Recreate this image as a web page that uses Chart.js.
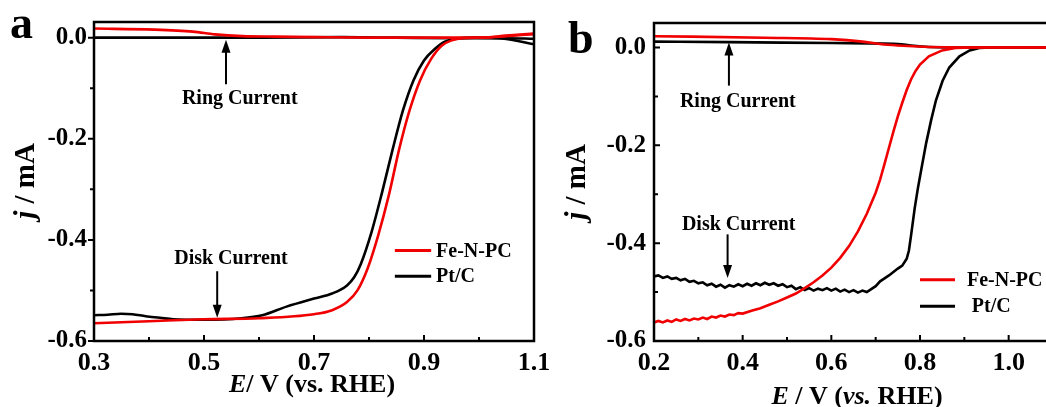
<!DOCTYPE html>
<html>
<head>
<meta charset="utf-8">
<script src="https://cdn.jsdelivr.net/npm/chart.js@4.4.0/dist/chart.umd.min.js"></script>
<style>
  html, body { margin: 0; padding: 0; background: #fff; overflow: hidden; width: 1046px; height: 407px; }
  canvas { position: absolute; top: 0; }
  #chartA { left: 0; }
  #chartB { left: 545px; }
</style>
</head>
<body>
<canvas id="chartA" width="560" height="407"></canvas>
<canvas id="chartB" width="535" height="407"></canvas>
<script>
// ---- panel a data (E in V vs RHE, j in mA) ----
const aFeDiskE = [0.30, 0.40, 0.50, 0.60, 0.70, 0.733, 0.76, 0.779, 0.798, 0.817, 0.836, 0.855, 0.874, 0.893, 0.913, 0.932, 0.951, 0.97, 1.01, 1.05, 1.10];
const aFeDiskJ = [-0.565, -0.561, -0.557, -0.555, -0.547, -0.539, -0.523, -0.500, -0.455, -0.390, -0.312, -0.220, -0.143, -0.084, -0.042, -0.016, -0.005, -0.001, 0.000, 0.003, 0.007];
const aPtDiskE = [0.30, 0.325, 0.349, 0.37, 0.394, 0.42, 0.444, 0.50, 0.568, 0.606, 0.65, 0.70, 0.733, 0.76, 0.773, 0.785, 0.805, 0.824, 0.843, 0.862, 0.881, 0.90, 0.919, 0.938, 0.963, 0.99, 1.046, 1.10];
const aPtDiskJ = [-0.549, -0.548, -0.546, -0.547, -0.551, -0.554, -0.557, -0.558, -0.555, -0.549, -0.532, -0.516, -0.506, -0.490, -0.474, -0.448, -0.383, -0.305, -0.221, -0.143, -0.084, -0.045, -0.023, -0.008, -0.001, 0.000, -0.002, -0.013];
const aFeRingE = [0.30, 0.41, 0.48, 0.52, 0.57, 0.63, 0.70, 0.80, 1.00, 1.05, 1.10];
const aFeRingJ = [0.018, 0.016, 0.012, 0.0065, 0.003, 0.002, 0.001, 0.000, 0.000, 0.004, 0.008];
const aPtRingE = [0.30, 0.60, 0.75, 0.85, 0.95, 1.05, 1.10];
const aPtRingJ = [0.000, 0.000, 0.001, 0.000, -0.001, -0.001, -0.002];
const aXTicks = [0.3, 0.5, 0.7, 0.9, 1.1];
const aXMinor = [0.4, 0.6, 0.8, 1.0];

// ---- panel b data ----
const bFeDiskE = [0.20, 0.21, 0.22, 0.23, 0.24, 0.25, 0.26, 0.27, 0.28, 0.29, 0.30, 0.31, 0.32, 0.33, 0.34, 0.35, 0.36, 0.37, 0.38, 0.39, 0.40, 0.42, 0.44, 0.46, 0.48, 0.50, 0.52, 0.54, 0.56, 0.58, 0.60, 0.62, 0.64, 0.66, 0.68, 0.70, 0.71, 0.72, 0.73, 0.74, 0.75, 0.76, 0.77, 0.78, 0.79, 0.80, 0.82, 0.85, 0.88, 0.92, 1.10];
const bFeDiskJ = [-0.562, -0.559, -0.562, -0.558, -0.561, -0.556, -0.559, -0.555, -0.558, -0.554, -0.556, -0.552, -0.555, -0.550, -0.552, -0.548, -0.550, -0.546, -0.547, -0.543, -0.544, -0.538, -0.533, -0.526, -0.519, -0.511, -0.503, -0.492, -0.480, -0.466, -0.450, -0.430, -0.406, -0.376, -0.340, -0.297, -0.270, -0.238, -0.205, -0.172, -0.141, -0.113, -0.087, -0.065, -0.048, -0.035, -0.018, -0.006, -0.001, 0.000, 0.000];
const bPtDiskE = [0.20, 0.21, 0.22, 0.23, 0.24, 0.25, 0.26, 0.27, 0.28, 0.29, 0.30, 0.31, 0.32, 0.33, 0.34, 0.35, 0.36, 0.37, 0.38, 0.39, 0.40, 0.41, 0.42, 0.43, 0.44, 0.45, 0.46, 0.47, 0.48, 0.49, 0.50, 0.51, 0.52, 0.53, 0.54, 0.55, 0.56, 0.57, 0.58, 0.59, 0.60, 0.61, 0.62, 0.63, 0.64, 0.65, 0.66, 0.67, 0.68, 0.69, 0.70, 0.71, 0.72, 0.73, 0.74, 0.75, 0.76, 0.77, 0.775, 0.78, 0.788, 0.795, 0.803, 0.814, 0.825, 0.836, 0.851, 0.866, 0.889, 0.912, 0.934, 0.96, 1.10];
const bPtDiskJ = [-0.468, -0.466, -0.471, -0.468, -0.473, -0.471, -0.476, -0.473, -0.479, -0.477, -0.482, -0.480, -0.486, -0.483, -0.489, -0.485, -0.491, -0.486, -0.489, -0.484, -0.488, -0.483, -0.487, -0.482, -0.486, -0.481, -0.485, -0.482, -0.487, -0.484, -0.490, -0.487, -0.494, -0.490, -0.496, -0.492, -0.497, -0.493, -0.496, -0.492, -0.497, -0.493, -0.499, -0.495, -0.500, -0.496, -0.501, -0.497, -0.500, -0.494, -0.488, -0.478, -0.472, -0.466, -0.459, -0.452, -0.446, -0.432, -0.415, -0.383, -0.329, -0.289, -0.249, -0.195, -0.149, -0.108, -0.068, -0.041, -0.018, -0.006, -0.001, 0.000, 0.000];
const bFeRingE = [0.20, 0.45, 0.60, 0.67, 0.71, 0.75, 0.82, 0.90, 1.10];
const bFeRingJ = [0.023, 0.020, 0.017, 0.012, 0.007, 0.004, 0.001, 0.000, 0.000];
const bPtRingE = [0.20, 0.37, 0.60, 0.75, 0.78, 0.82, 0.86, 1.10];
const bPtRingJ = [0.012, 0.011, 0.009, 0.007, 0.004, 0.001, 0.000, 0.000];
const bXTicks = [0.2, 0.4, 0.6, 0.8, 1.0];
const bXMinor = [0.3, 0.5, 0.7, 0.9];

const yTicks = [0.0, -0.2, -0.4, -0.6];
const yMinor = [-0.1, -0.3, -0.5];
const seriesNames = ['Fe-N-PC', 'Pt/C'];
const seriesColors = ['#f00000', '#000000'];

const SERIF = '"Liberation Serif", "Times New Roman", serif';

function pts(xs, ys) {
  return xs.map((x, i) => ({ x: x, y: ys[i] }));
}

function line(data, color, noisy) {
  const ds = {
    data: data,
    borderColor: color,
    borderWidth: 2.6,
    pointRadius: 0,
    fill: false
  };
  if (noisy) ds.tension = 0;
  else ds.cubicInterpolationMode = 'monotone';
  return ds;
}

// draws text pieces (some italic) centred at cx, cy
function drawRuns(ctx, runs, cx, cy, size) {
  const fontOf = it => (it ? 'italic ' : '') + 'bold ' + size + 'px ' + SERIF;
  let total = 0;
  runs.forEach(r => { ctx.font = fontOf(r[1]); total += ctx.measureText(r[0]).width; });
  let x = cx - total / 2;
  ctx.textAlign = 'left';
  ctx.textBaseline = 'middle';
  runs.forEach(r => {
    ctx.font = fontOf(r[1]);
    ctx.fillText(r[0], x, cy);
    x += ctx.measureText(r[0]).width;
  });
}

function arrow(ctx, x, yFrom, yTo) {
  const dir = yTo > yFrom ? 1 : -1;
  ctx.lineWidth = 2;
  ctx.beginPath();
  ctx.moveTo(x, yFrom);
  ctx.lineTo(x, yTo - dir * 10);
  ctx.stroke();
  ctx.beginPath();
  ctx.moveTo(x, yTo);
  ctx.lineTo(x - 4.5, yTo - dir * 13);
  ctx.lineTo(x + 4.5, yTo - dir * 13);
  ctx.closePath();
  ctx.fill();
}

function decoPlugin(p) {
  return {
    id: 'deco',
    afterDatasetsDraw(chart) {
      const ctx = chart.ctx;
      const a = chart.chartArea;
      const sx = chart.scales.x, sy = chart.scales.y;
      const X = v => sx.getPixelForValue(v);
      const Y = v => sy.getPixelForValue(v);
      ctx.save();
      ctx.strokeStyle = '#000';
      ctx.fillStyle = '#000';
      ctx.lineWidth = 2.5;
      ctx.strokeRect(a.left, a.top, a.right - a.left, a.bottom - a.top);

      // tick marks
      ctx.lineWidth = 2;
      ctx.beginPath();
      p.xTicks.forEach(v => { ctx.moveTo(X(v), a.bottom); ctx.lineTo(X(v), a.bottom - 6); });
      p.xMinor.forEach(v => { ctx.moveTo(X(v), a.bottom); ctx.lineTo(X(v), a.bottom - 4); });
      const d = p.yOut ? -1 : 1;
      yTicks.forEach(v => { ctx.moveTo(a.left, Y(v)); ctx.lineTo(a.left + d * 6, Y(v)); });
      yMinor.forEach(v => { ctx.moveTo(a.left, Y(v)); ctx.lineTo(a.left + d * 4, Y(v)); });
      ctx.stroke();

      // panel letter
      ctx.font = 'bold 46px ' + SERIF;
      ctx.textAlign = 'left';
      ctx.textBaseline = 'alphabetic';
      ctx.fillText(p.letter, p.letterPos[0], p.letterPos[1]);

      // axis titles
      drawRuns(ctx, p.xTitle, p.xTitlePos[0], p.xTitlePos[1], 26);
      ctx.save();
      ctx.translate(p.yTitlePos[0], p.yTitlePos[1]);
      ctx.rotate(-Math.PI / 2);
      drawRuns(ctx, [['j', true], [' / mA', false]], 0, 0, 29);
      ctx.restore();

      // annotations
      drawRuns(ctx, [['Ring Current', false]], X(p.ring.tx), Y(p.ring.ty), 20);
      arrow(ctx, X(p.ring.ax), Y(p.ring.a0), Y(p.ring.a1));
      drawRuns(ctx, [['Disk Current', false]], X(p.disk.tx), Y(p.disk.ty), 20);
      arrow(ctx, X(p.disk.ax), Y(p.disk.a0), Y(p.disk.a1));

      // legend
      ctx.lineWidth = 3;
      seriesNames.forEach((name, i) => {
        const ly = Y(p.legend.ys[i]);
        ctx.strokeStyle = seriesColors[i];
        ctx.beginPath();
        ctx.moveTo(X(p.legend.x0), ly);
        ctx.lineTo(X(p.legend.x1), ly);
        ctx.stroke();
        ctx.font = 'bold 20px ' + SERIF;
        ctx.fillStyle = '#000';
        ctx.textAlign = 'left';
        ctx.textBaseline = 'middle';
        ctx.fillText(name, X(p.legend.tx[i]), ly + 1);
      });
      ctx.restore();
    }
  };
}

function makePanel(id, p) {
  const ctx = document.getElementById(id).getContext('2d');
  new Chart(ctx, {
    type: 'line',
    data: {
      datasets: [
        line(pts(p.feDisk[0], p.feDisk[1]), seriesColors[0], p.noisy),
        line(pts(p.feRing[0], p.feRing[1]), seriesColors[0], false),
        line(pts(p.ptDisk[0], p.ptDisk[1]), seriesColors[1], p.noisy),
        line(pts(p.ptRing[0], p.ptRing[1]), seriesColors[1], false)
      ]
    },
    options: {
      responsive: false,
      animation: false,
      layout: { padding: { left: 0, top: p.top, right: p.right, bottom: 0 } },
      plugins: { legend: { display: false }, tooltip: { enabled: false } },
      scales: {
        x: {
          type: 'linear',
          min: p.xMin, max: p.xMax,
          grid: { display: false, drawTicks: false },
          border: { display: false },
          afterBuildTicks: s => { s.ticks = p.xTicks.map(v => ({ value: v })); },
          afterFit: s => { s.height = 407 - 341; },
          ticks: {
            padding: 7,
            color: '#000',
            font: { family: SERIF, size: 26, weight: 'bold' },
            callback: v => v.toFixed(1)
          }
        },
        y: {
          min: -0.6, max: p.yMax,
          grid: { display: false, drawTicks: false },
          border: { display: false },
          afterBuildTicks: s => { s.ticks = yTicks.map(v => ({ value: v })); },
          afterFit: s => { s.width = p.yWidth; },
          ticks: {
            padding: p.yPad,
            color: '#000',
            font: { family: SERIF, size: 25, weight: 'bold' },
            callback: v => v.toFixed(1)
          }
        }
      }
    },
    plugins: [decoPlugin(p)]
  });
}

makePanel('chartA', {
  feDisk: [aFeDiskE, aFeDiskJ], feRing: [aFeRingE, aFeRingJ],
  ptDisk: [aPtDiskE, aPtDiskJ], ptRing: [aPtRingE, aPtRingJ],
  xMin: 0.3, xMax: 1.1, yMax: 0.031, xTicks: aXTicks, xMinor: aXMinor, noisy: false,
  top: 17, right: 26, yWidth: 94, yPad: 7, yOut: true,
  letter: 'a', letterPos: [10, 38],
  xTitle: [['E', true], ['/ V (vs. RHE)', false]], xTitlePos: [312, 385],
  yTitlePos: [27, 181],
  ring: { tx: 0.565, ty: -0.121, ax: 0.54, a0: -0.092, a1: -0.004 },
  disk: { tx: 0.549, ty: -0.437, ax: 0.524, a0: -0.462, a1: -0.554 },
  legend: { x0: 0.847, x1: 0.913, ys: [-0.421, -0.472], tx: [0.922, 0.922] }
});

makePanel('chartB', {
  feDisk: [bFeDiskE, bFeDiskJ], feRing: [bFeRingE, bFeRingJ],
  ptDisk: [bPtDiskE, bPtDiskJ], ptRing: [bPtRingE, bPtRingJ],
  xMin: 0.2, xMax: 1.1, yMax: 0.05, xTicks: bXTicks, xMinor: bXMinor, noisy: true,
  top: 18, right: 27, yWidth: 109, yPad: 8, yOut: false,
  letter: 'b', letterPos: [23, 53],
  xTitle: [['E', true], [' / V (', false], ['vs.', true], [' RHE)', false]], xTitlePos: [312, 397],
  yTitlePos: [33, 182],
  ring: { tx: 0.389, ty: -0.111, ax: 0.369, a0: -0.078, a1: 0.01 },
  disk: { tx: 0.391, ty: -0.362, ax: 0.366, a0: -0.382, a1: -0.471 },
  legend: { x0: 0.80, x1: 0.879, ys: [-0.475, -0.529], tx: [0.906, 0.917] }
});
</script>
</body>
</html>
